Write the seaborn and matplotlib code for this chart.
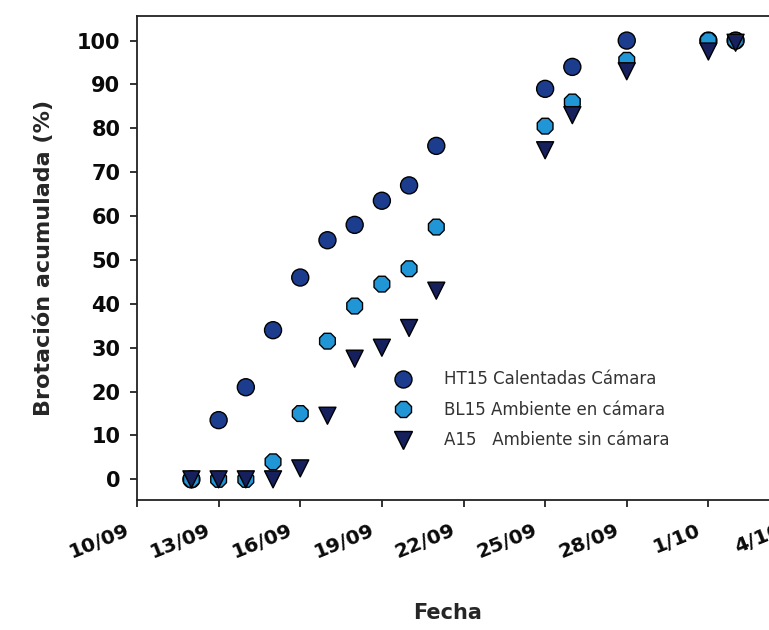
import pandas as pd
import seaborn as sns
import matplotlib.pyplot as plt
import matplotlib.ticker as mticker
import matplotlib.dates as mdates
from matplotlib.transforms import ScaledTranslation

# fechas de muestreo (2015)
fechas = ["2015-09-12", "2015-09-13", "2015-09-14", "2015-09-15", "2015-09-16",
          "2015-09-17", "2015-09-18", "2015-09-19", "2015-09-20", "2015-09-21",
          "2015-09-25", "2015-09-26", "2015-09-28", "2015-10-01", "2015-10-02"]

# brotación acumulada (%) por tratamiento
ht15 = [0, 13.5, 21, 34, 46, 54.5, 58, 63.5, 67, 76, 89, 94, 100, 100, 100]
bl15 = [0, 0, 0, 4, 15, 31.5, 39.5, 44.5, 48, 57.5, 80.5, 86, 95.5, 100, 100]
a15 = [0, 0, 0, 0, 2.5, 14.5, 27.5, 30, 34.5, 43, 75, 83, 93, 97.5, 99.5]

tratamientos = ["HT15 Calentadas Cámara", "BL15 Ambiente en cámara", "A15   Ambiente sin cámara"]

tick_fechas = ["2015-09-10", "2015-09-13", "2015-09-16", "2015-09-19", "2015-09-22",
               "2015-09-25", "2015-09-28", "2015-10-01", "2015-10-04"]
tick_labels = ["10/09", "13/09", "16/09", "19/09", "22/09", "25/09", "28/09", "1/10", "4/10"]

y_ticks = list(range(0, 101, 10))

df = pd.DataFrame({
    "fecha": pd.to_datetime(fechas * 3),
    "brotacion": ht15 + bl15 + a15,
    "tratamiento": [tratamientos[0]] * len(ht15) + [tratamientos[1]] * len(bl15) + [tratamientos[2]] * len(a15),
})

sns.set_style("ticks")
plt.rcParams["font.family"] = ["DejaVu Sans"]

fig = plt.figure(figsize=(7.69, 6.30), dpi=100)
ax = fig.add_axes([137 / 769, 130 / 630, 653 / 769, 484 / 630])

colores = {tratamientos[0]: "#1c3d8e", tratamientos[1]: "#2196d6", tratamientos[2]: "#15205c"}
marcas = {tratamientos[0]: "o", tratamientos[1]: "8", tratamientos[2]: "v"}

sns.scatterplot(data=df, x="fecha", y="brotacion", hue="tratamiento", style="tratamiento",
                palette=colores, markers=marcas, s=150, edgecolor="black", linewidth=1.0, ax=ax)

ax.set_xlim(pd.Timestamp("2015-09-10"), pd.Timestamp("2015-10-04"))
ax.set_ylim(-4.7, 105.6)

ax.xaxis.set_major_locator(mticker.FixedLocator([mdates.date2num(pd.Timestamp(t)) for t in tick_fechas]))
ax.set_xticklabels(tick_labels, rotation=22, ha="right", rotation_mode="anchor",
                   fontsize=14.5, fontweight="bold")
ax.set_yticks(y_ticks)
ax.set_yticklabels([str(v) for v in y_ticks], fontsize=15, fontweight="bold")

ax.tick_params(axis="both", direction="out", length=5, width=1.3, color="#222222",
               labelcolor="#0a0a0a")
ax.tick_params(axis="y", pad=7)
ax.tick_params(axis="x", pad=10)
desplaza = ScaledTranslation(-9 / 72, 0, fig.dpi_scale_trans)
for lbl in ax.get_xticklabels():
    lbl.set_transform(lbl.get_transform() + desplaza)

for sp in ax.spines.values():
    sp.set_visible(True)
    sp.set_color("#222222")
    sp.set_linewidth(1.3)

ax.set_xlabel("Fecha", fontsize=15, fontweight="bold")
ax.set_ylabel("Brotación acumulada (%)", fontsize=16, fontweight="bold")
ax.xaxis.set_label_coords((448 - 137) / 653, -(603 - 500) / 484)
ax.yaxis.set_label_coords(-(137 - 54) / 653, 0.5)

handles, labels = ax.get_legend_handles_labels()
ax.legend(handles, labels, loc="center left", bbox_to_anchor=(0.394, 0.186), frameon=False,
          fontsize=12, handlelength=1.0, handletextpad=2.0, labelspacing=0.75,
          borderpad=0, borderaxespad=0, labelcolor="#333333")

fig.savefig("out.png", dpi=100)
